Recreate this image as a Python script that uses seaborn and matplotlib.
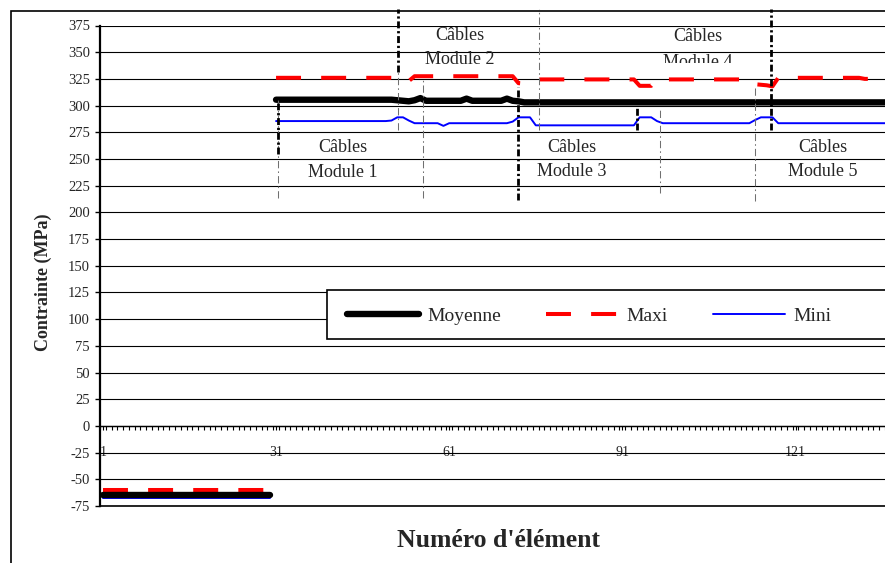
import numpy as np
import pandas as pd
import seaborn as sns
import matplotlib.pyplot as plt
from matplotlib.lines import Line2D
from matplotlib.patches import Rectangle
from matplotlib.transforms import Bbox, TransformedBbox

# values (MPa), one value per element
elem_a = list(range(1, 31))      # first group of elements
elem_b = list(range(31, 138))    # cable elements

moy_a = [-65] * 30
maxi_a = [-60] * 30
mini_a = [-67.5] * 30

moy_b = ([305.5] * 21 + [305, 304.5, 304, 305, 307] + [304.5] * 7 + [306.5]
         + [304.5] * 6 + [306.5, 304.5, 304] + [303] * 64)
maxi_b = ([326] * 21 + [322, 322.5, 323] + [327.5] * 18 + [321, 320.5, 321.5]
          + [324.5] * 18 + [318.5] * 3 + [324.5] * 17 + [320, 319.5, 319, 318]
          + [326] * 15 + [325] * 5)
mini_b = ([285.5] * 20 + [286, 289, 289, 286] + [283.5] * 5 + [281] + [283.5] * 11
          + [285] + [289] * 3 + [281.5] * 18 + [289] * 3 + [285.5] + [283.5] * 16
          + [286.5] + [289] * 3 + [283.5] * 20)

x_ticks = [1, 31, 61, 91, 121]
y_ticks = list(range(-75, 376, 25))

# module annotations (element position, y of the two text lines)
modules = ["Module 1", "Module 2", "Module 3", "Module 4", "Module 5"]
mod_x = [42.5, 62.9, 82.3, 104.0, 125.8]
mod_y1 = [260.3, 366.1, 260.3, 364.7, 261.2]
mod_y2 = [236.9, 343.6, 237.8, 339.9, 237.8]

# dash-dot separators between modules
thin_x = [31.3, 52.1, 56.4, 76.5, 97.6, 113.9]
thin_lo = [213, 277, 213, 277, 218, 211]
thin_hi = [307, 331, 324, 390, 296, 317]
thick_x = [31.3, 52.1, 72.9, 93.6, 116.7]
thick_lo = [255, 331, 212, 277, 277]
thick_hi = [302, 390, 317, 299, 390]

frames = []
for serie, a, b in [("Moyenne", moy_a, moy_b), ("Maxi", maxi_a, maxi_b), ("Mini", mini_a, mini_b)]:
    frames.append(pd.DataFrame({"element": elem_a, "contrainte": a, "serie": serie, "segment": 0}))
    frames.append(pd.DataFrame({"element": elem_b, "contrainte": b, "serie": serie, "segment": 1}))
df = pd.concat(frames, ignore_index=True)

sns.set_style("white")
plt.rcParams['font.family'] = ['Liberation Serif', 'DejaVu Serif']
plt.rcParams['axes.unicode_minus'] = False

fig = plt.figure(figsize=(8.85, 5.63), dpi=100)
ax = fig.add_axes([100 / 885, 1 - 506 / 563, 785 / 885, 480.5 / 563])

styles = {
    "Mini": dict(color="blue", lw=1.4, linestyle="-"),
    "Maxi": dict(color="red", lw=2.9, linestyle=(0, (6.2, 5.0))),
    "Moyenne": dict(color="black", lw=4.6, linestyle="-", solid_capstyle="round"),
}
for serie, st in styles.items():
    sns.lineplot(data=df[df.serie == serie], x="element", y="contrainte", units="segment",
                 estimator=None, ax=ax, legend=False, **st)

# module separators
ax.vlines(thin_x, thin_lo, thin_hi, colors="#707070", lw=0.75,
          linestyles=[(0, (7, 3, 1.5, 3))], zorder=3, clip_on=False)
ax.vlines(thick_x, thick_lo, thick_hi, colors="black", lw=2.0,
          linestyles=[(0, (2.5, 1, 0.8, 1))], zorder=3, clip_on=False)

for name, mx, y1, y2 in zip(modules, mod_x, mod_y1, mod_y2):
    ax.text(mx, y1, "Câbles", ha="center", va="center", fontsize=13, zorder=4)
    t = ax.text(mx, y2, name, ha="center", va="center", fontsize=13, zorder=4)
    if name == "Module 4":
        # lower half hidden in the original
        t.set_clip_path(None)
        t.set_clip_box(TransformedBbox(Bbox([[90, 339.6], [120, 380]]), ax.transData))
        t.set_clip_on(True)

ax.set_xlim(0.5, 136.2)
ax.set_ylim(-75, 375)
ax.set_yticks(y_ticks)
ax.set_xticks(x_ticks)
ax.set_xticks(np.arange(0.5, 137, 1), minor=True)
ax.yaxis.grid(True, color="black", lw=0.8)
ax.xaxis.grid(False)
ax.axhline(-75, color="black", lw=1.2, clip_on=False)

for s in ["top", "right"]:
    ax.spines[s].set_visible(False)
ax.spines["bottom"].set_position(("data", 0))
ax.spines["bottom"].set_linewidth(1.0)
ax.spines["bottom"].set_color("black")
ax.spines["left"].set_linewidth(1.6)
ax.spines["left"].set_color("black")

ax.tick_params(axis="x", which="both", bottom=True, direction="out", length=3,
               width=0.8, color="black", pad=11.5, labelsize=10)
ax.tick_params(axis="y", left=True, direction="out", length=3.6, width=1,
               color="black", pad=3.6, labelsize=10.5)

ax.set_ylabel("Contrainte (MPa)", fontsize=13, fontweight="bold", va="center")
ax.yaxis.set_label_coords(-0.0726, 0.466)
ax.set_xlabel("Numéro d'élément", fontsize=18.5, fontweight="bold", va="center")
ax.xaxis.set_label_coords(0.508, -0.0708)

# legend with its own frame running off the right edge
ax.add_patch(Rectangle((327 / 885, 1 - 339 / 563), 0.7, 49 / 563, transform=fig.transFigure,
                       facecolor="white", edgecolor="black", lw=1.2, zorder=4.5, clip_on=False))
handles = [Line2D([], [], color="black", lw=4.6, solid_capstyle="round"),
           Line2D([], [], color="red", lw=2.9, linestyle=(0, (6.2, 5.0))),
           Line2D([], [], color="blue", lw=1.4)]
ax.legend(handles, ["Moyenne", "Maxi", "Mini"], ncol=3, frameon=False, fontsize=14,
          loc="center left", bbox_to_anchor=(347 / 885, 1 - 316 / 563),
          bbox_transform=fig.transFigure, borderpad=0, borderaxespad=0,
          handlelength=3.7, handletextpad=0.45, columnspacing=2.3)

# outer chart border
fig.patches.append(Rectangle((11 / 885, -0.1), 1.2, 1.1 - 11 / 563, transform=fig.transFigure,
                             fill=False, edgecolor="black", lw=1.2))

fig.savefig("out.png", dpi=100)
